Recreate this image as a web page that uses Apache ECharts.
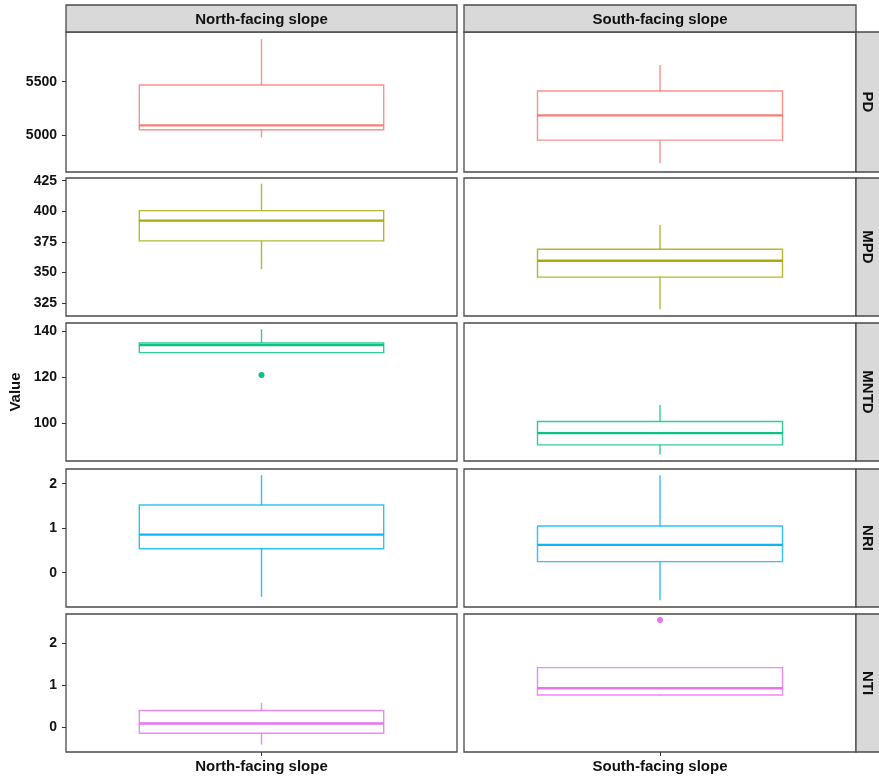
<!DOCTYPE html>
<html>
<head>
<meta charset="utf-8">
<script src="https://cdn.jsdelivr.net/npm/echarts@6/dist/echarts.min.js"></script>
<style>
  html, body { margin: 0; padding: 0; background: #ffffff; }
  #chart { width: 879px; height: 778px; }
</style>
</head>
<body>
<div id="chart"></div>
<script>
// ---- data ----
const slopes = ['North-facing slope', 'South-facing slope'];
const metrics = ['PD', 'MPD', 'MNTD', 'NRI', 'NTI'];

// five-number summaries per metric: [lower whisker, Q1, median, Q3, upper whisker]
const northStats = [
  [4978, 5050, 5091, 5469, 5898],
  [352.6, 375.8, 392.3, 400.5, 422.5],
  [130.8, 130.8, 134.1, 135.0, 141.0],
  [-0.54, 0.54, 0.856, 1.52, 2.19],
  [-0.405, -0.136, 0.095, 0.405, 0.586]
];
const southStats = [
  [4740, 4953, 5185, 5413, 5657],
  [319.8, 346.1, 359.5, 368.9, 388.8],
  [86.5, 90.7, 95.8, 100.9, 108.0],
  [-0.62, 0.25, 0.625, 1.05, 2.19],
  [0.76, 0.77, 0.93, 1.42, 1.42]
];
const northOutliers = [[], [], [121.1], [], []];
const southOutliers = [[], [], [], [], [2.55]];

// per-row value ranges and tick labels
const yMin = [4655, 314.3, 83.7, -0.77, -0.58];
const yMax = [5965, 427.2, 143.7, 2.33, 2.69];
const yTickValues = [
  [5000, 5500],
  [325, 350, 375, 400, 425],
  [100, 120, 140],
  [0, 1, 2],
  [0, 1, 2]
];

const palette = ['#F8766D', '#A3A500', '#00BF7D', '#00B0F6', '#E76BF3'];

// ---- layout ----
const colLeft = [66, 464];
const colWidth = [391, 392];
const rowTop = [32, 178, 323, 469, 614];
const rowHeight = [140, 138, 138, 138, 138];
const stripTop = 5;
const stripRight = 856;
const FONT = '"Liberation Sans", Arial, sans-serif';
const TEXT = '#111111';
const BORDER = '#4a4a4a';

const statsByCol = [northStats, southStats];
const outliersByCol = [northOutliers, southOutliers];

const grids = [], xAxes = [], yAxes = [], series = [];

function boxRenderer(color) {
  return function (params, api) {
    const lo = api.value(1), q1 = api.value(2), md = api.value(3), q3 = api.value(4), hi = api.value(5);
    const c = api.coord([0, md]);
    const half = api.size([1, 0])[0] * 0.625 / 2;
    const yLo = api.coord([0, lo])[1];
    const yQ1 = api.coord([0, q1])[1];
    const yMd = c[1];
    const yQ3 = api.coord([0, q3])[1];
    const yHi = api.coord([0, hi])[1];
    const x = c[0];
    const thin = { stroke: color, lineWidth: 1.4, opacity: 0.8, fill: null };
    return {
      type: 'group',
      children: [
        { type: 'line', shape: { x1: x, y1: yHi, x2: x, y2: yQ3 }, style: thin },
        { type: 'line', shape: { x1: x, y1: yQ1, x2: x, y2: yLo }, style: thin },
        { type: 'rect', shape: { x: x - half, y: yQ3, width: half * 2, height: yQ1 - yQ3 }, style: thin },
        { type: 'line', shape: { x1: x - half, y1: yMd, x2: x + half, y2: yMd },
          style: { stroke: color, lineWidth: 2.4, opacity: 0.95 } }
      ]
    };
  };
}

let idx = 0;
for (let r = 0; r < metrics.length; r++) {
  for (let c = 0; c < slopes.length; c++) {
    grids.push({
      left: colLeft[c], top: rowTop[r], width: colWidth[c], height: rowHeight[r],
      show: true, borderColor: BORDER, borderWidth: 1.3, backgroundColor: '#ffffff',
      containLabel: false
    });
    const bottomRow = r === metrics.length - 1;
    xAxes.push({
      gridIndex: idx, type: 'category', data: [slopes[c]],
      position: 'bottom',
      boundaryGap: true,
      axisLine: { show: false, onZero: false },
      axisTick: { show: bottomRow, alignWithLabel: true, length: 4, lineStyle: { color: '#333' } },
      axisLabel: { show: bottomRow, margin: 7, color: TEXT, fontFamily: FONT, fontWeight: 'bold', fontSize: 15 },
      splitLine: { show: false }
    });
    yAxes.push({
      gridIndex: idx, type: 'value', min: yMin[r], max: yMax[r],
      axisLine: { show: false, onZero: false },
      axisTick: { show: c === 0, length: 4, lineStyle: { color: '#333' }, customValues: yTickValues[r] },
      axisLabel: { show: c === 0, margin: 9, color: TEXT, fontFamily: FONT, fontWeight: 'bold', fontSize: 14,
                   customValues: yTickValues[r], formatter: v => String(v) },
      splitLine: { show: false }
    });
    const s = statsByCol[c][r];
    series.push({
      type: 'custom', xAxisIndex: idx, yAxisIndex: idx,
      renderItem: boxRenderer(palette[r]),
      encode: { x: 0, y: [1, 2, 3, 4, 5] },
      data: [[0, s[0], s[1], s[2], s[3], s[4]]],
      silent: true, clip: false
    });
    const outs = outliersByCol[c][r];
    if (outs.length) {
      series.push({
        type: 'scatter', xAxisIndex: idx, yAxisIndex: idx,
        symbolSize: 6, itemStyle: { color: palette[r], opacity: 0.95 },
        data: outs.map(v => [0, v]), silent: true
      });
    }
    idx++;
  }
}

// facet strips
const graphic = [];
for (let c = 0; c < slopes.length; c++) {
  graphic.push({
    type: 'rect', silent: true,
    shape: { x: colLeft[c], y: stripTop, width: colWidth[c], height: rowTop[0] - stripTop },
    style: { fill: '#d9d9d9', stroke: BORDER, lineWidth: 1.3 }
  });
  graphic.push({
    type: 'text', silent: true,
    x: colLeft[c] + colWidth[c] / 2, y: (stripTop + rowTop[0]) / 2 + 1,
    style: { text: slopes[c], align: 'center', verticalAlign: 'middle',
             fill: TEXT, font: 'bold 15px ' + FONT }
  });
}
for (let r = 0; r < metrics.length; r++) {
  graphic.push({
    type: 'rect', silent: true,
    shape: { x: stripRight, y: rowTop[r], width: 30, height: rowHeight[r] },
    style: { fill: '#d9d9d9', stroke: BORDER, lineWidth: 1.3 }
  });
  graphic.push({
    type: 'text', silent: true,
    x: stripRight + 11, y: rowTop[r] + rowHeight[r] / 2,
    rotation: -Math.PI / 2,
    style: { text: metrics[r], align: 'center', verticalAlign: 'middle',
             fill: TEXT, font: 'bold 15px ' + FONT }
  });
}
graphic.push({
  type: 'text', silent: true,
  x: 16, y: 392, rotation: Math.PI / 2,
  style: { text: 'Value', align: 'center', verticalAlign: 'middle',
           fill: TEXT, font: 'bold 15px ' + FONT }
});

const chart = echarts.init(document.getElementById('chart'), null, { renderer: 'canvas' });
chart.setOption({
  animation: false,
  backgroundColor: '#ffffff',
  grid: grids,
  xAxis: xAxes,
  yAxis: yAxes,
  series: series,
  graphic: graphic
});
</script>
</body>
</html>
